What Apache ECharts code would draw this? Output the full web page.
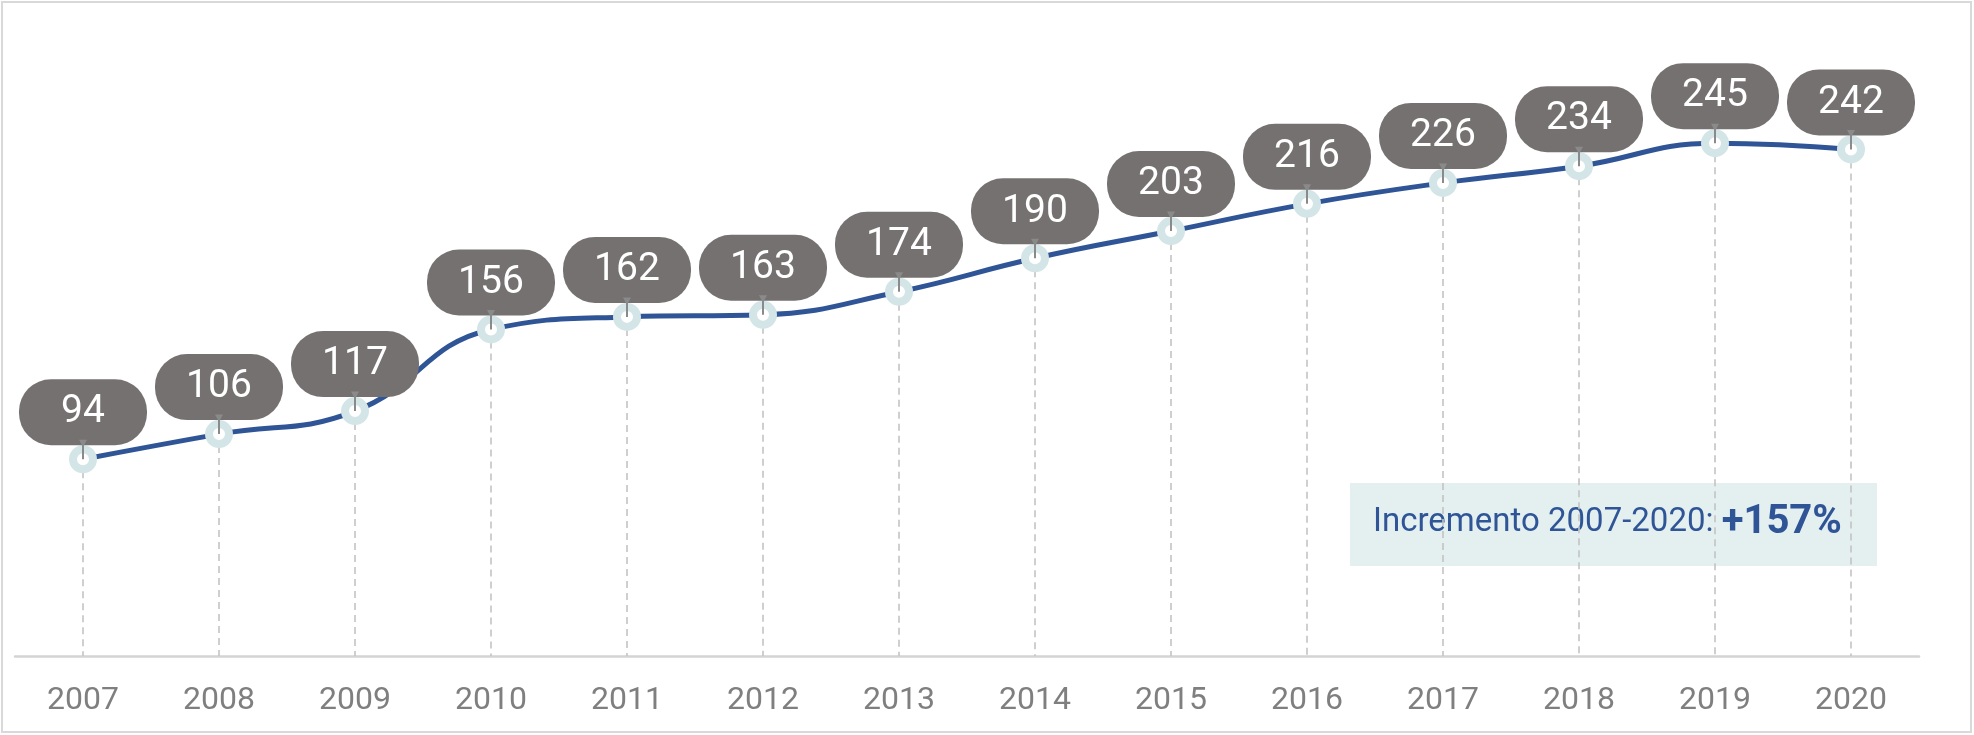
<!DOCTYPE html>
<html>
<head>
<meta charset="utf-8">
<script src="https://cdn.jsdelivr.net/npm/echarts@6/dist/echarts.min.js"></script>
<style>
html,body{margin:0;padding:0;background:#fff;}
#chart{width:1974px;height:735px;}
</style>
</head>
<body>
<div id="chart"></div>
<script>
const years = ['2007','2008','2009','2010','2011','2012','2013','2014','2015','2016','2017','2018','2019','2020'];
const values = [94,106,117,156,162,163,174,190,203,216,226,234,245,242];
const noteLabel = 'Incremento 2007-2020: ';
const noteValue = '+157%';

const chart = echarts.init(document.getElementById('chart'));
const FONT = 'Roboto, "Liberation Sans", sans-serif';

const option = {
  animation: false,
  backgroundColor: '#ffffff',
  grid: {left: 15, right: 55, top: 28, bottom: 79, containLabel: false},
  xAxis: {
    type: 'category',
    data: years,
    boundaryGap: true,
    axisLine: {show: true, lineStyle: {color: '#d4d4d4', width: 2.5}},
    axisTick: {show: false},
    axisLabel: {color: '#7f7f7f', fontSize: 32, fontFamily: FONT, margin: 29},
    splitLine: {show: false}
  },
  yAxis: {
    type: 'value', min: 0, max: 300, show: false,
    splitLine: {show: false}
  },
  graphic: [
    {type: 'rect', z: -10, shape: {x: 2, y: 2, width: 1969, height: 730},
     style: {fill: 'none', stroke: '#d9d9d9', lineWidth: 2}},
    {type: 'rect', z: -5, shape: {x: 1350, y: 483, width: 527, height: 83},
     style: {fill: '#e4eff0'}},
    {type: 'text', z: -4, left: 1373, top: 503,
     style: {
       text: '{a|' + noteLabel + '}{b|' + noteValue + '}',
       rich: {
         a: {fontSize: 33, fontFamily: FONT, fill: '#2f5597', color: '#2f5597'},
         b: {fontSize: 40, fontWeight: 'bold', fontFamily: FONT, fill: '#2f5597', color: '#2f5597'}
       }
     }}
  ],
  series: [
    {
      type: 'custom',
      z: 1,
      silent: true,
      data: values.map((v, i) => [i, v]),
      renderItem: function (params, api) {
        const p = api.coord([api.value(0), api.value(1)]);
        const b = api.coord([api.value(0), 0]);
        return {
          type: 'line',
          shape: {x1: p[0], y1: p[1], x2: p[0], y2: b[1]},
          style: {stroke: '#c4c4c4', lineWidth: 1.6, lineDash: [7, 5]}
        };
      }
    },
    {
      type: 'line',
      z: 2,
      data: values,
      smooth: 0.45,
      symbol: 'circle',
      symbolSize: 20,
      showAllSymbol: true,
      lineStyle: {color: '#2f5597', width: 5},
      itemStyle: {color: '#ffffff', borderColor: '#d4e5e7', borderWidth: 8},
      label: {
        show: true,
        position: 'top',
        distance: 0,
        formatter: '{c}',
        color: '#ffffff',
        fontSize: 39,
        fontFamily: FONT,
        backgroundColor: '#767171',
        width: 128,
        lineHeight: 45,
        align: 'center',
        borderRadius: 32,
        padding: [11, 0, 10, 0]
      }
    },
    {
      type: 'custom',
      z: 5,
      silent: true,
      data: values.map((v, i) => [i, v]),
      renderItem: function (params, api) {
        const p = api.coord([api.value(0), api.value(1)]);
        return {
          type: 'group',
          children: [
            {type: 'line', shape: {x1: p[0], y1: p[1] - 19, x2: p[0], y2: p[1]},
             style: {stroke: '#8a8a8a', lineWidth: 2}},
            {type: 'polygon', shape: {points: [[p[0] - 4, p[1] - 19.5], [p[0] + 4, p[1] - 19.5], [p[0], p[1] - 12]]},
             style: {fill: '#8a8a8a'}}
          ]
        };
      }
    }
  ]
};
chart.setOption(option);
</script>
</body>
</html>
